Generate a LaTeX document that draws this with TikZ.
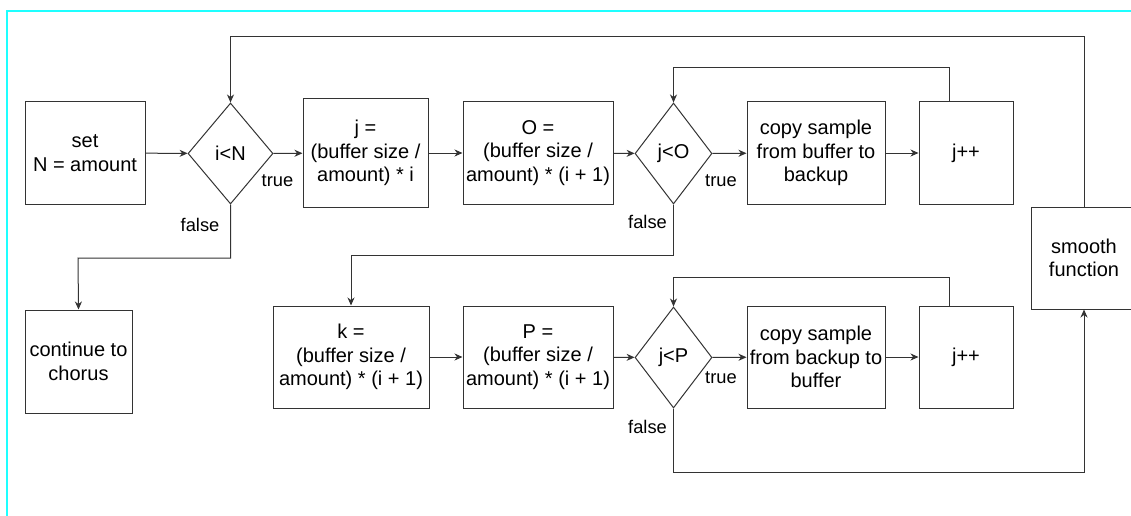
\documentclass[tikz,border=0pt]{standalone}
\usepackage{fontspec}
\setmainfont{Liberation Sans}
\usetikzlibrary{arrows.meta,shapes.geometric}
\definecolor{ln}{HTML}{333333}
\definecolor{frame}{HTML}{1EFFFF}
\tikzset{
  box/.style={draw=ln, line width=1pt, rectangle, align=center, inner sep=0pt,
    font=\fontsize{20}{23.5}\selectfont, text=black},
  dia/.style={draw=ln, line width=1pt, diamond, align=center, inner sep=0pt,
    font=\fontsize{20}{23.5}\selectfont, text=black},
  lbl/.style={font=\fontsize{18.3}{21}\selectfont, text=black, inner sep=0pt},
  arr/.style={draw=ln, line width=1pt, -{Stealth[length=8pt,width=7pt,inset=2.5pt]}},
  ln/.style={draw=ln, line width=1pt},
}
\begin{document}
\begin{tikzpicture}[x=1pt,y=-1pt]
\useasboundingbox (0,0) rectangle (1131,516);
\draw[frame, line width=2pt] (1133,11) -- (7,11) -- (7,518);

% top row
\node[box, minimum width=120pt, minimum height=102pt] (set) at (85,153) {set\\N = amount};
\node[dia, minimum width=85pt, minimum height=101pt] (iN) at (230.5,153.5) {i<N};
\node[box, minimum width=125pt, minimum height=108pt] (jbox) at (365.5,153) {j =\\(buffer size /\\amount) * i};
\node[box, minimum width=150pt, minimum height=102pt] (Obox) at (538,153) {O =\\(buffer size /\\amount) * (i + 1)};
\node[dia, minimum width=77pt, minimum height=101pt] (jO) at (673.5,153.5) {j<O};
\node[box, minimum width=138pt, minimum height=102pt] (copy1) at (816,153) {copy sample\\from buffer to\\backup};
\node[box, minimum width=94pt, minimum height=102pt] (jpp1) at (966,153) {j++};
\node[box, minimum width=106pt, minimum height=102pt] (smooth) at (1084,258) {smooth\\function};
\node[box, minimum width=107pt, minimum height=103pt] (cont) at (78.5,361.5) {continue to\\chorus};

% bottom row
\node[box, minimum width=156pt, minimum height=102pt] (kbox) at (351,357) {k =\\(buffer size /\\amount) * (i + 1)};
\node[box, minimum width=150pt, minimum height=102pt] (Pbox) at (538,357) {P =\\(buffer size /\\amount) * (i + 1)};
\node[dia, minimum width=77pt, minimum height=101pt] (jP) at (673.5,357.5) {j<P};
\node[box, minimum width=138pt, minimum height=102pt] (copy2) at (816,357) {copy sample\\from backup to\\buffer};
\node[box, minimum width=94pt, minimum height=102pt] (jpp2) at (966,357) {j++};

% turning points
\coordinate (t1) at (949,68);
\coordinate (t2) at (1084,37);
\coordinate (t3) at (78,258);
\coordinate (t4) at (351,255);
\coordinate (t5) at (949,277);
\coordinate (t6) at (673.5,472);

% straight arrows
\draw[arr] (set) -- (iN);
\draw[arr] (iN) -- (jbox);
\draw[arr] (jbox) -- (Obox);
\draw[arr] (Obox) -- (jO);
\draw[arr] (jO) -- (copy1);
\draw[arr] (copy1) -- (jpp1);
\draw[arr] (kbox) -- (Pbox);
\draw[arr] (Pbox) -- (jP);
\draw[arr] (jP) -- (copy2);
\draw[arr] (copy2) -- (jpp2);

% loops
\draw[arr] (jpp1.north -| t1) -- (t1) -| (jO.north);
\draw[arr] (smooth.north) -- (t2) -| (iN.north);
\draw[arr] (iN.south) |- (t3) -- (cont.north);
\draw[arr] (jO.south) |- (t4) -- (kbox.north);
\draw[arr] (jpp2.north -| t5) -- (t5) -| (jP.north);
\draw[arr] (jP.south) -- (t6) -| (smooth.south);

% labels
\node[lbl] (l1) at (277.5,181) {true};
\node[lbl] (l2) at (200,225) {false};
\node[lbl] (l3) at (721,181) {true};
\node[lbl] (l4) at (647.5,222) {false};
\node[lbl] (l5) at (721,378) {true};
\node[lbl] (l6) at (647.5,427) {false};
\end{tikzpicture}
\end{document}
